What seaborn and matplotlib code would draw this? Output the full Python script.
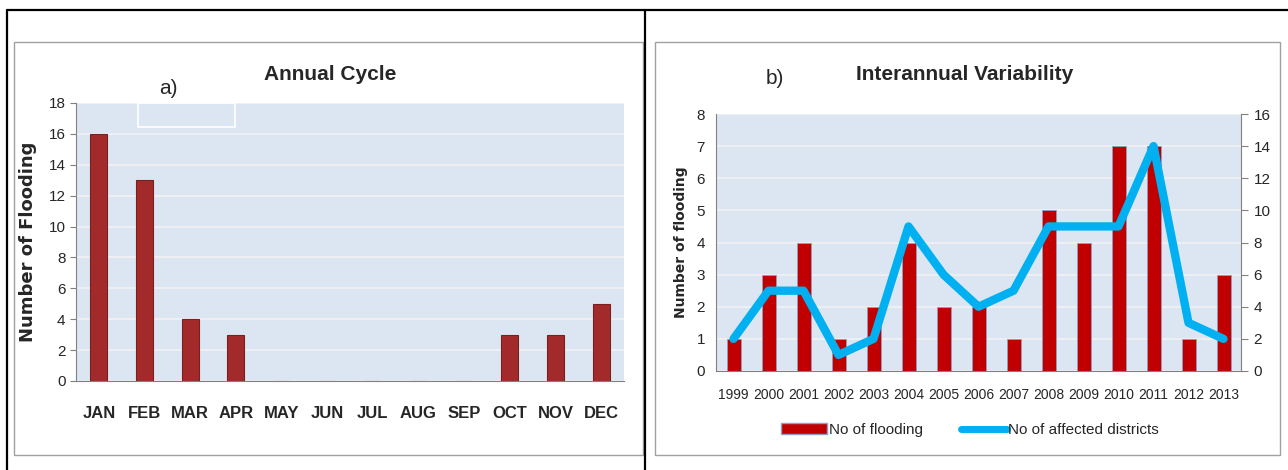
import numpy as np
import pandas as pd
import matplotlib
matplotlib.use("Agg")
import matplotlib.pyplot as plt
import matplotlib.patches as mpatches
from matplotlib.lines import Line2D
import seaborn as sns

# data
months = ["JAN", "FEB", "MAR", "APR", "MAY", "JUN", "JUL", "AUG", "SEP", "OCT", "NOV", "DEC"]
monthly_floods = [16, 13, 4, 3, 0, 0, 0, 0, 0, 3, 3, 5]

years = ["1999", "2000", "2001", "2002", "2003", "2004", "2005", "2006",
         "2007", "2008", "2009", "2010", "2011", "2012", "2013"]
yearly_floods = [1, 3, 4, 1, 2, 4, 2, 2, 1, 5, 4, 7, 7, 1, 3]
affected_districts = [2, 5, 5, 1, 2, 9, 6, 4, 5, 9, 9, 9, 14, 3, 2]

sns.set_style("white")
plt.rcParams["font.family"] = ["Liberation Sans", "DejaVu Sans"]

W, H = 1288, 470
fig = plt.figure(figsize=(12.88, 4.70), dpi=100)

def fx(px):
    return px / W

def fy(py):
    return 1 - py / H

# outer table lines and chart frames
fig.add_artist(Line2D([fx(7), 1], [fy(10), fy(10)], color="black", lw=1.6))
fig.add_artist(Line2D([fx(7), fx(7)], [fy(10), 0], color="black", lw=1.6))
fig.add_artist(Line2D([fx(645), fx(645)], [fy(10), 0], color="black", lw=1.6))
for x0, x1 in [(14, 643), (655, 1280)]:
    fig.add_artist(mpatches.Rectangle((fx(x0), fy(455)), fx(x1 - x0), (455 - 42) / H,
                                      fill=False, ec="#A0A0A0", lw=1.0))

bg = "#DCE6F2"

# a) annual cycle
ax1 = fig.add_axes([fx(76), fy(381), fx(624 - 76), (381 - 103) / H])
df_m = pd.DataFrame({"month": months, "floods": monthly_floods})
sns.barplot(data=df_m, x="month", y="floods", ax=ax1, color="#A32A2A",
            width=0.37, edgecolor="#7A1F1F", linewidth=0.8, saturation=1)
ax1.set_facecolor(bg)
ax1.set_ylim(0, 18)
ax1.set_yticks(range(0, 19, 2))
ax1.yaxis.grid(True, color="#F2F2F2", lw=1.2)
ax1.set_axisbelow(True)
for s in ["top", "right"]:
    ax1.spines[s].set_visible(False)
ax1.spines["left"].set_color("#808080")
ax1.spines["bottom"].set_color("#808080")
ax1.tick_params(axis="y", length=4, color="#808080", labelsize=11, left=True)
ax1.tick_params(axis="x", length=0, labelsize=12, pad=18)
for t in ax1.get_xticklabels():
    t.set_fontweight("bold")
ax1.set_xlabel("")
ax1.set_ylabel("Number of Flooding", fontsize=13, fontweight="bold",
               family=["DejaVu Sans"], labelpad=8)
fig.text(fx(330), fy(75), "Annual Cycle", ha="center", va="center",
         fontsize=15, fontweight="bold")
fig.text(fx(168), fy(88), "a)", ha="center", va="center", fontsize=15)
fig.add_artist(mpatches.Rectangle((fx(138), fy(127)), fx(97), 24 / H,
                                  fill=False, ec="white", lw=1.2))

# b) interannual variability
ax2 = fig.add_axes([fx(716), fy(371), fx(1241 - 716), (371 - 114) / H])
df_y = pd.DataFrame({"year": years, "floods": yearly_floods,
                     "districts": affected_districts})
sns.barplot(data=df_y, x="year", y="floods", ax=ax2, color="#C00000",
            width=0.4, edgecolor="#8FA0C0", linewidth=0.6, saturation=1)
ax2.set_facecolor(bg)
ax2.set_ylim(0, 8)
ax2.set_yticks(range(0, 9))
ax2.yaxis.grid(True, color="#F2F2F2", lw=1.2)
ax2.set_axisbelow(True)
for s in ["top", "right"]:
    ax2.spines[s].set_visible(False)
ax2.spines["left"].set_color("#808080")
ax2.spines["bottom"].set_color("#808080")
ax2.tick_params(axis="y", length=0, labelsize=11, left=False, pad=8)
ax2.tick_params(axis="x", length=0, labelsize=10, pad=12)
ax2.set_xlabel("")
ax2.set_ylabel("Number of flooding", fontsize=10, fontweight="bold",
               family=["DejaVu Sans"], labelpad=6)

ax3 = ax2.twinx()
sns.lineplot(data=df_y, x="year", y="districts", ax=ax3, color="#00B0F0",
             lw=6, sort=False)
ax3.set_ylim(0, 16)
ax3.set_yticks(range(0, 17, 2))
ax3.set_ylabel("")
for s in ["top", "left", "bottom"]:
    ax3.spines[s].set_visible(False)
ax3.spines["right"].set_color("#808080")
ax3.tick_params(axis="y", length=5, color="#808080", labelsize=11, right=True, pad=4)
ax2.set_xlim(-0.5, len(years) - 0.5)

fig.text(fx(965), fy(75), "Interannual Variability", ha="center", va="center",
         fontsize=15, fontweight="bold")
fig.text(fx(775), fy(78), "b)", ha="center", va="center", fontsize=15)

handles = [mpatches.Patch(facecolor="#C00000", edgecolor="#8FA0C0"),
           Line2D([0], [0], color="#00B0F0", lw=5)]
fig.legend(handles, ["No of flooding", "No of affected districts"],
           loc="center", bbox_to_anchor=(fx(970), fy(430)), ncol=2,
           frameon=False, fontsize=11, handlelength=3, columnspacing=2.5,
           handletextpad=0.1)

fig.savefig("out.png", dpi=100)
